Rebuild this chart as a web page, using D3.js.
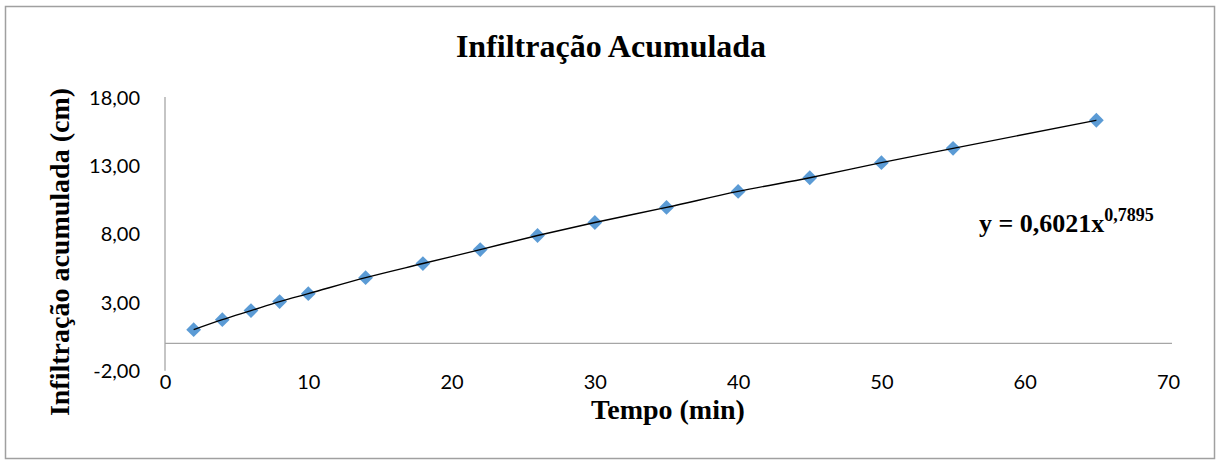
<!DOCTYPE html>
<html>
<head>
<meta charset="utf-8">
<script src="https://cdn.jsdelivr.net/npm/d3@7"></script>
<style>
  body { margin: 0; background: #fff; }
  .tick text { font-family: Lato, "Open Sans", sans-serif; font-size: 20px; fill: #000; }
  .ttl { font-family: "Liberation Serif", "Times New Roman", serif; font-weight: bold; fill: #000; }
</style>
</head>
<body>
<svg class="chart"></svg>
<script>
// Tempo (min) and infiltração acumulada (cm)
const tempo = [2, 4, 6, 8, 10, 14, 18, 22, 26, 30, 35, 40, 45, 50, 55, 65];
const infiltracao = [1.0, 1.73, 2.39, 3.05, 3.63, 4.8, 5.83, 6.85, 7.88, 8.83, 9.93, 11.1, 12.1, 13.2, 14.25, 16.3];
const xTicks = [0, 10, 20, 30, 40, 50, 60, 70];
const yTicks = [-2, 3, 8, 13, 18];
const equation = { base: 'y = 0,6021x', exponent: '0,7895' };

const width = 1216;
const height = 460;

let svg = d3.select('svg.chart')
  .attr('width', width)
  .attr('height', height);

//Outer chart border
svg.append('rect')
  .attr('x', 5.5).attr('y', 6.5)
  .attr('width', 1209).attr('height', 452)
  .attr('fill', '#fff')
  .attr('stroke', '#a0a0a0')
  .attr('stroke-width', 1.5);

//Scales
let x = d3.scaleLinear().domain([0, 70]).range([165, 1168]);
let y = d3.scaleLinear().domain([-2, 18]).range([370.7, 97]);

//Y axis (labels only, plus the vertical line)
let yAxis = svg.append('g')
  .attr('transform', 'translate(' + x(0) + ',0)')
  .call(d3.axisLeft(y).tickValues(yTicks).tickSize(0).tickPadding(25)
    .tickFormat(d => d3.format('.2f')(d).replace('.', ',').replace('\u2212', '-')));
yAxis.select('.domain').remove();
yAxis.selectAll('.tick text').attr('dy', '0.35em');

svg.append('line')
  .attr('x1', x(0)).attr('x2', x(0))
  .attr('y1', y(18)).attr('y2', y(-2))
  .attr('stroke', '#a6a6a6').attr('stroke-width', 1.3);

//X axis line sits at y = 0, labels below the plot
svg.append('line')
  .attr('x1', x(0)).attr('x2', x(70) + 4)
  .attr('y1', y(0)).attr('y2', y(0))
  .attr('stroke', '#a6a6a6').attr('stroke-width', 1.3);

let xAxis = svg.append('g')
  .attr('transform', 'translate(0,' + y(-2) + ')')
  .call(d3.axisBottom(x).tickValues(xTicks).tickSize(0).tickPadding(0));
xAxis.select('.domain').remove();
xAxis.selectAll('.tick text').attr('dy', '0.9em');

//Trend line
let pts = tempo.map((t, i) => ({ t: t, v: infiltracao[i] }));
let line = d3.line()
  .x(d => x(d.t))
  .y(d => y(d.v))
  .curve(d3.curveMonotoneX);

//Markers
svg.selectAll('.pt')
  .data(pts)
  .enter()
  .append('path')
    .attr('class', 'pt')
    .attr('d', d3.symbol().type(d3.symbolDiamond2).size(140))
    .attr('transform', d => 'translate(' + x(d.t) + ',' + y(d.v) + ') ')
    .attr('fill', '#5b9bd5');

svg.append('path')
  .datum(pts)
  .attr('d', line)
  .attr('fill', 'none')
  .attr('stroke', '#000')
  .attr('stroke-width', 1.4);

//Titles
svg.append('text')
  .attr('class', 'ttl')
  .attr('x', 611).attr('y', 57)
  .attr('text-anchor', 'middle')
  .style('font-size', '32px')
  .text('Infiltração Acumulada');

svg.append('text')
  .attr('class', 'ttl')
  .attr('x', 668).attr('y', 419)
  .attr('text-anchor', 'middle')
  .style('font-size', '28px')
  .text('Tempo (min)');

svg.append('text')
  .attr('class', 'ttl')
  .attr('transform', 'translate(69,252) rotate(-90)')
  .attr('text-anchor', 'middle')
  .style('font-size', '28px')
  .text('Infiltração acumulada (cm)');

//Equation label
let eq = svg.append('text')
  .attr('class', 'ttl')
  .attr('x', 979).attr('y', 232)
  .style('font-size', '26px');
eq.append('tspan').text(equation.base);
eq.append('tspan')
  .attr('dy', -11)
  .style('font-size', '18px')
  .text(equation.exponent);
</script>
</body>
</html>
